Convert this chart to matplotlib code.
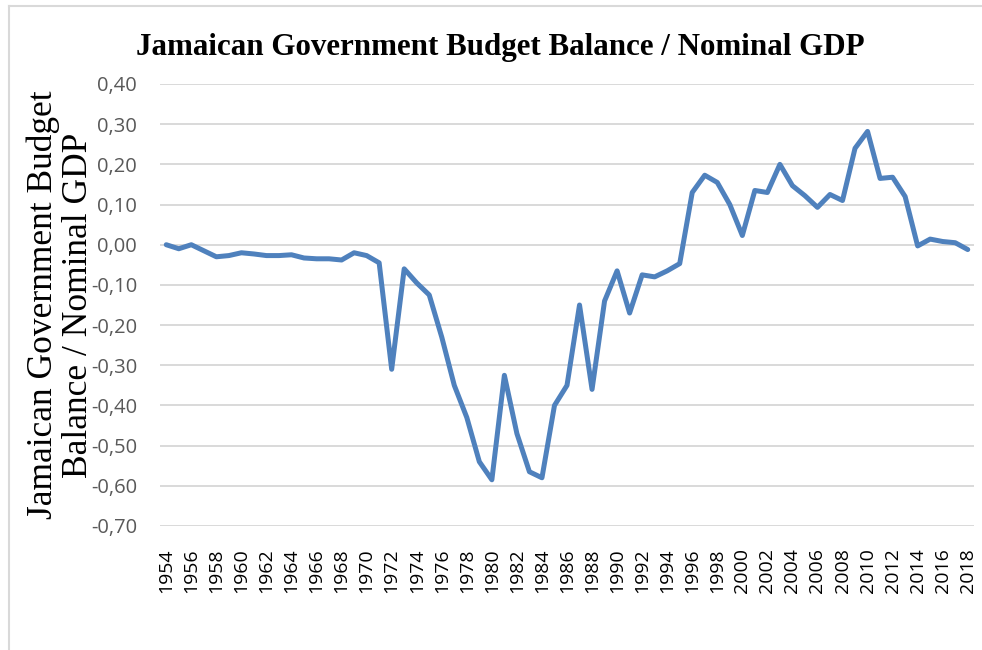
import matplotlib
matplotlib.use("Agg")
import matplotlib.pyplot as plt
from matplotlib.lines import Line2D
from matplotlib.ticker import FuncFormatter

years = list(range(1954, 2019))
balance = [
    0.00, -0.01, 0.00, -0.015, -0.03, -0.027, -0.02, -0.023, -0.027, -0.027,
    -0.025, -0.033, -0.035, -0.035, -0.038, -0.02, -0.027, -0.045, -0.31, -0.06,
    -0.095, -0.125, -0.23, -0.35, -0.43, -0.54, -0.585, -0.325, -0.47, -0.565,
    -0.58, -0.40, -0.35, -0.15, -0.36, -0.14, -0.065, -0.17, -0.075, -0.08,
    -0.065, -0.047, 0.13, 0.173, 0.155, 0.10, 0.023, 0.135, 0.13, 0.20,
    0.147, 0.122, 0.093, 0.125, 0.11, 0.24, 0.282, 0.165, 0.168, 0.12,
    -0.003, 0.014, 0.008, 0.005, -0.012,
]
year_ticks = list(range(1954, 2019, 2))

W, H = 982, 650
fig = plt.figure(figsize=(W / 100, H / 100), dpi=100)
ax = fig.add_axes([160 / W, 1 - 526 / H, (974 - 160) / W, (526 - 84) / H])

ax.plot(years, balance, color="#4F81BD", lw=3.6, solid_joinstyle="round",
        solid_capstyle="round", zorder=3)

ax.set_xlim(1953.5, 2018.5)
ax.set_ylim(-0.70, 0.40)
ax.set_yticks([i / 10 for i in range(-7, 5)])
ax.yaxis.set_major_formatter(FuncFormatter(lambda v, p: f"{v:.2f}".replace(".", ",")))
ax.set_xticks(year_ticks)
ax.set_xticklabels([str(y) for y in year_ticks], rotation=90)

ax.grid(axis="y", color="#D9D9D9", lw=1.4)
ax.set_axisbelow(True)
for s in ax.spines.values():
    s.set_visible(False)
ax.tick_params(length=0)
ax.tick_params(axis="y", labelsize=14.5, labelcolor="#595959", pad=16.5)
ax.tick_params(axis="x", labelsize=14, labelcolor="black", pad=16)
for lab in ax.get_yticklabels() + ax.get_xticklabels():
    lab.set_family("Open Sans")

# the label sits partly over the tick labels, as in the original
ax.set_ylabel("Jamaican Government Budget\nBalance / Nominal GDP",
              family="Liberation Serif", fontsize=25.5, linespacing=1.08, labelpad=-3)

fig.text(500 / W, 1 - 47 / H, "Jamaican Government Budget Balance / Nominal GDP",
         family="Liberation Serif", fontweight="bold", fontsize=22.3,
         ha="center", va="center")

# chart frame (top and left edges visible)
fig.add_artist(Line2D([9 / W, 1], [1 - 6 / H, 1 - 6 / H], color="#D9D9D9", lw=1.5))
fig.add_artist(Line2D([9 / W, 9 / W], [0, 1 - 6 / H], color="#D9D9D9", lw=1.5))

fig.savefig("out.png", dpi=100, facecolor="white")
